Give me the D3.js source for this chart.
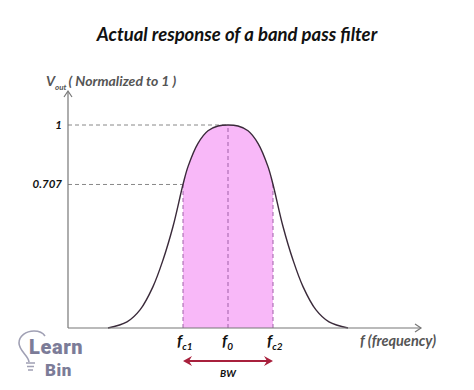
<!DOCTYPE html>
<html>
<head>
<meta charset="utf-8">
<script src="https://cdn.jsdelivr.net/npm/d3@7"></script>
<style>
  body { margin: 0; background: #fff; }
  text { font-family: Lato, "Open Sans", sans-serif; font-style: italic; font-weight: bold; }
</style>
</head>
<body>
<div id="chart"></div>
<script>
// frequency in arbitrary units, response normalised to 1
var freq = [40, 59, 72, 85, 95, 105, 115, 120, 130, 140, 150, 160, 170, 180, 190, 200, 205, 215, 225, 235, 248, 261, 280];
var resp = [0, 0.03, 0.089, 0.204, 0.335, 0.5, 0.707, 0.795, 0.91, 0.972, 0.995, 1.0, 0.995, 0.972, 0.91, 0.795, 0.707, 0.5, 0.335, 0.204, 0.089, 0.03, 0];
var marks = [{ f: 115, name: "c1" }, { f: 160, name: "0" }, { f: 205, name: "c2" }];
var levels = [{ v: 1, label: "1", to: 160 }, { v: 0.707, label: "0.707", to: 115 }];

var data = freq.map((f, i) => ({ f: f, v: resp[i] }));

var svg = d3.select("#chart").append("svg")
    .attr("width", 474)
    .attr("height", 390);

var x = d3.scaleLinear().domain([0, 350]).range([68, 418]);
var y = d3.scaleLinear().domain([0, 1]).range([328, 125]);

// title
svg.append("text")
   .attr("x", 237).attr("y", 41)
   .attr("text-anchor", "middle")
   .attr("font-size", 18.5)
   .attr("fill", "#111")
   .text("Actual response of a band pass filter");

// y axis label
var yl = svg.append("text").attr("x", 46).attr("y", 86).attr("fill", "#555").attr("font-size", 14);
yl.append("tspan").text("V");
yl.append("tspan").attr("font-size", 8).attr("dy", 4).text("out");
yl.append("tspan").attr("dy", -4).attr("dx", 2).text("( Normalized to 1 )");

// shaded band between the cut-off frequencies
svg.append("clipPath").attr("id", "band")
   .append("rect")
   .attr("x", x(marks[0].f)).attr("y", 0)
   .attr("width", x(marks[2].f) - x(marks[0].f)).attr("height", 400);

var curve = d3.curveCatmullRom.alpha(0.5);

svg.append("path")
   .datum(data)
   .attr("clip-path", "url(#band)")
   .attr("fill", "#f8b8f8")
   .attr("d", d3.area().x(d => x(d.f)).y0(y(0)).y1(d => y(d.v)).curve(curve));

// horizontal guides
svg.selectAll(".hguide")
   .data(levels)
   .enter().append("line")
   .attr("x1", x(0)).attr("x2", d => x(d.to))
   .attr("y1", d => y(d.v)).attr("y2", d => y(d.v))
   .attr("stroke", "#888")
   .attr("stroke-dasharray", "4,3");

svg.selectAll(".ylab")
   .data(levels)
   .enter().append("text")
   .attr("x", 62).attr("y", d => y(d.v) + 4)
   .attr("text-anchor", "end")
   .attr("font-size", 11.5)
   .attr("fill", "#111")
   .text(d => d.label);

// vertical guides
svg.selectAll(".vguide")
   .data(marks)
   .enter().append("line")
   .attr("x1", d => x(d.f)).attr("x2", d => x(d.f))
   .attr("y1", y(0))
   .attr("y2", d => y(d3.max(data.filter(p => p.f === d.f), p => p.v)))
   .attr("stroke", "#a060a8")
   .attr("stroke-dasharray", "4,3");

// response curve
svg.append("path")
   .datum(data)
   .attr("fill", "none")
   .attr("stroke", "#3a2a3a")
   .attr("stroke-width", 1.4)
   .attr("d", d3.line().x(d => x(d.f)).y(d => y(d.v)).curve(curve));

// axes with arrows
svg.append("line").attr("x1", x(0)).attr("x2", x(0)).attr("y1", y(0)).attr("y2", 92)
   .attr("stroke", "#777").attr("stroke-width", 1.2);
svg.append("path").attr("d", "M64,97 L68,91 L72,97")
   .attr("fill", "none").attr("stroke", "#777").attr("stroke-width", 1.2);
svg.append("line").attr("x1", x(0)).attr("x2", 421).attr("y1", y(0)).attr("y2", y(0))
   .attr("stroke", "#777").attr("stroke-width", 1.2);
svg.append("path").attr("d", "M415,324 L421,328 L415,332")
   .attr("fill", "none").attr("stroke", "#777").attr("stroke-width", 1.2);

// frequency labels
var fl = svg.selectAll(".flab")
   .data(marks)
   .enter().append("text")
   .attr("x", d => x(d.f) - 6).attr("y", 346)
   .attr("font-size", 16)
   .attr("fill", "#111");
fl.append("tspan").text("f");
fl.append("tspan").attr("font-size", 10).attr("dy", 4).text(d => d.name);

svg.append("text")
   .attr("x", 360).attr("y", 346)
   .attr("font-size", 14.5)
   .attr("fill", "#555")
   .text("f (frequency)");

// bandwidth arrow
svg.append("line")
   .attr("x1", x(marks[0].f) + 4).attr("x2", x(marks[2].f) - 4)
   .attr("y1", 361).attr("y2", 361)
   .attr("stroke", "#a8203c").attr("stroke-width", 1.8);
svg.append("path")
   .attr("d", `M${x(marks[0].f)},361 l9,-5 l-3,5 l3,5 z M${x(marks[2].f)},361 l-9,-5 l3,5 l-3,5 z`)
   .attr("fill", "#a8203c");
svg.append("text")
   .attr("x", x(marks[1].f)).attr("y", 377)
   .attr("text-anchor", "middle")
   .attr("font-size", 10)
   .attr("fill", "#111")
   .text("BW");

// logo
var logo = svg.append("g").attr("fill", "none").attr("stroke", "#a0a0b4").attr("stroke-width", 1.6);
logo.append("path").attr("d", "M29,362 C29,356 19,351 19,343 C19,336 26,331 34,331 C39,331 43,333 45,336");
logo.append("path").attr("d", "M26,363 h9 M27,366.5 h7 M28,370 h5");
svg.append("text")
   .attr("x", 29).attr("y", 354)
   .style("font-family", "Roboto, sans-serif")
   .style("font-style", "normal").style("font-weight", 900)
   .style("letter-spacing", "0.6px")
   .attr("font-size", 20)
   .attr("fill", "#7c7c98")
   .text("Learn");
svg.append("text")
   .attr("x", 45).attr("y", 376)
   .style("font-family", "Roboto, sans-serif")
   .style("font-style", "normal").style("font-weight", 900)
   .style("letter-spacing", "0.6px")
   .attr("font-size", 17)
   .attr("fill", "#7c7c98")
   .text("Bin");
</script>
</body>
</html>
